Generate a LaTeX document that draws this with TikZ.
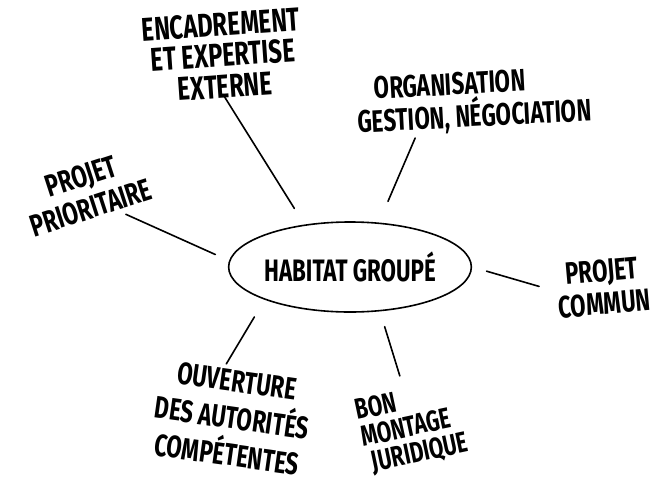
\documentclass[tikz,border=0pt]{standalone}
\usepackage{fontspec}
\setmainfont{Fira Sans}[FakeStretch=0.72]
\usetikzlibrary{shapes.geometric}

\tikzset{every picture/.style={line width=1.5pt}}
\tikzset{
  hand/.style={font=\bfseries\fontsize{31}{33}\selectfont, align=center, inner sep=1pt},
  hub/.style={draw, ellipse, line width=1.6pt, minimum width=234pt, minimum height=90pt, inner sep=0pt, font=\bfseries\fontsize{31}{30}\selectfont},
  spoke/.style={line width=1.6pt, line cap=round},
}

\begin{document}
\begin{tikzpicture}[x=1pt,y=1pt,yscale=-1,xscale=1]
	\useasboundingbox (0,0) rectangle (659,477);
	
	%Shape: Ellipse [hub]
	\node[hub] (hub) at (350,267) {HABITAT GROUPÉ};
	
	% Text Node
	\node[hand, rotate=4, font=\bfseries\fontsize{33}{31}\selectfont] (encadr) at (223,55) {ENCADREMENT\\ET EXPERTISE\\EXTERNE};
	% Text Node
	\node[hand, rotate=3, align=left] (organ) at (474,102) {\hspace{18pt}ORGANISATION\\GESTION, NÉGOCIATION};
	% Text Node
	\node[hand, rotate=18] (priorit) at (86,192) {PROJET\\PRIORITAIRE};
	% Text Node
	\node[hand, rotate=5] (commun) at (603,287) {PROJET\\COMMUN};
	% Text Node
	\node[hand, rotate=-8, font=\bfseries\fontsize{31}{37}\selectfont] (ouvert) at (232,418) {OUVERTURE\\DES AUTORITÉS\\COMPÉTENTES};
	% Text Node
	\node[hand, rotate=12, align=left, font=\bfseries\fontsize{29}{27}\selectfont] (bon) at (412,428) {BON\\MONTAGE\\\ JURIDIQUE};
	
	%Straight Lines
	\draw[spoke, shorten <=19pt, shorten >=-6pt] (hub.137) -- (encadr.south);
	%Straight Lines
	\draw[spoke, shorten <=23pt, shorten >=1pt] (hub.57) -- (organ.208);
	%Straight Lines
	\draw[spoke, shorten <=15pt, shorten >=6pt] (hub.177) -- (priorit.-48);
	%Straight Lines
	\draw[spoke, shorten <=15pt, shorten >=17pt] (hub.0) -- (commun.west);
	%Straight Lines
	\draw[spoke, shorten <=20pt, shorten >=3pt] (hub.201) -- (ouvert.106);
	%Straight Lines
	\draw[spoke, shorten <=16pt, shorten >=12pt] (hub.-56) -- (bon.north);
	
\end{tikzpicture}
\end{document}
